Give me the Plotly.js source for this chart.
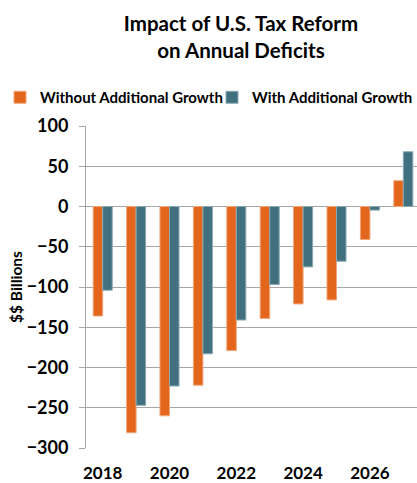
<!DOCTYPE html>
<html>
<head>
<meta charset="utf-8">
<script src="https://cdn.plot.ly/plotly-3.0.1.min.js"></script>
<style>html,body{margin:0;padding:0;background:#fff;}#chart{width:417px;height:483px;}</style>
</head>
<body>
<div id="chart"></div>
<script>
const years = [2018, 2019, 2020, 2021, 2022, 2023, 2024, 2025, 2026, 2027];
const withoutGrowth = [-136, -281, -260, -222, -179, -139, -121, -116, -41, 32];
const withGrowth = [-104, -247, -223, -183, -141, -97, -75, -68, -4.5, 68];
const seriesNames = ['Without Additional Growth', 'With Additional Growth'];
const xTickLabels = ['2018', '2020', '2022', '2024', '2026'];
const chartTitle = 'Impact of U.S. Tax Reform<br>on Annual Deficits';
const yTitle = '$$ Billions';

const FONT = 'Lato, "Liberation Sans", Arial, sans-serif';
const GRID = '#a6a6a6';

const traces = [
  {
    type: 'bar', x: years, y: withoutGrowth, name: seriesNames[0], legend: 'legend',
    marker: {color: '#e3661c', line: {color: '#f0a57a', width: 1}},
    hoverinfo: 'x+y'
  },
  {
    type: 'bar', x: years, y: withGrowth, name: seriesNames[1], legend: 'legend2',
    marker: {color: '#41707e', line: {color: '#8aa9b3', width: 1}},
    hoverinfo: 'x+y'
  }
];

const xRange = [2017.5, 2027.41];
const legendFont = {family: FONT, size: 15, color: '#000', weight: 'bold'};

const layout = {
  width: 417, height: 483,
  margin: {l: 86, r: 0, t: 126, b: 34.5, pad: 0, autoexpand: false},
  paper_bgcolor: '#fff', plot_bgcolor: '#fff',
  font: {family: FONT, color: '#000', size: 14, weight: 'bold'},
  title: {
    text: chartTitle,
    font: {family: FONT, size: 20.5, color: '#000', weight: 'bold'},
    xref: 'container', x: 241 / 417, xanchor: 'center',
    yref: 'container', y: 1 - 31 / 483, yanchor: 'top'
  },
  barmode: 'group', bargap: 0.43, bargroupgap: 0,
  showlegend: true,
  legend: {
    orientation: 'h', xref: 'container', yref: 'container',
    x: 0, xanchor: 'left', y: 1 - 81 / 483, yanchor: 'top',
    font: legendFont, itemwidth: 30, bgcolor: 'rgba(0,0,0,0)'
  },
  legend2: {
    orientation: 'h', xref: 'container', yref: 'container',
    x: 212 / 417, xanchor: 'left', y: 1 - 81 / 483, yanchor: 'top',
    font: legendFont, itemwidth: 30, bgcolor: 'rgba(0,0,0,0)'
  },
  xaxis: {
    range: xRange, type: 'linear',
    tickvals: xTickLabels.map(Number), ticktext: xTickLabels,
    ticks: '', showgrid: false, showline: false, zeroline: false,
    tickfont: {family: FONT, size: 17, color: '#000', weight: 'bold'},
    ticklabelstandoff: 13, fixedrange: true
  },
  xaxis2: {
    overlaying: 'x', matches: 'x', anchor: 'free', position: 0.75, side: 'bottom',
    type: 'linear', range: xRange,
    tick0: 2017.5, dtick: 1, ticks: 'outside', ticklen: 6, tickcolor: GRID, tickwidth: 1,
    showticklabels: false, showgrid: false, showline: true, linecolor: GRID, linewidth: 1,
    zeroline: false
  },
  yaxis: {
    range: [-300, 100], dtick: 50, tick0: 0,
    showgrid: true, gridcolor: GRID, gridwidth: 1,
    zeroline: true, zerolinecolor: GRID, zerolinewidth: 1,
    showline: true, linecolor: GRID, linewidth: 1,
    ticks: 'outside', ticklen: 6, tickcolor: GRID, tickwidth: 1,
    tickfont: {family: FONT, size: 18, color: '#000', weight: 'bold'},
    ticklabelstandoff: 7,
    title: {text: yTitle, font: {family: FONT, size: 15.5, color: '#000', weight: 'bold'}, standoff: 0},
    fixedrange: true
  }
};

Plotly.newPlot('chart', traces, layout, {displayModeBar: false, staticPlot: true});
</script>
</body>
</html>
